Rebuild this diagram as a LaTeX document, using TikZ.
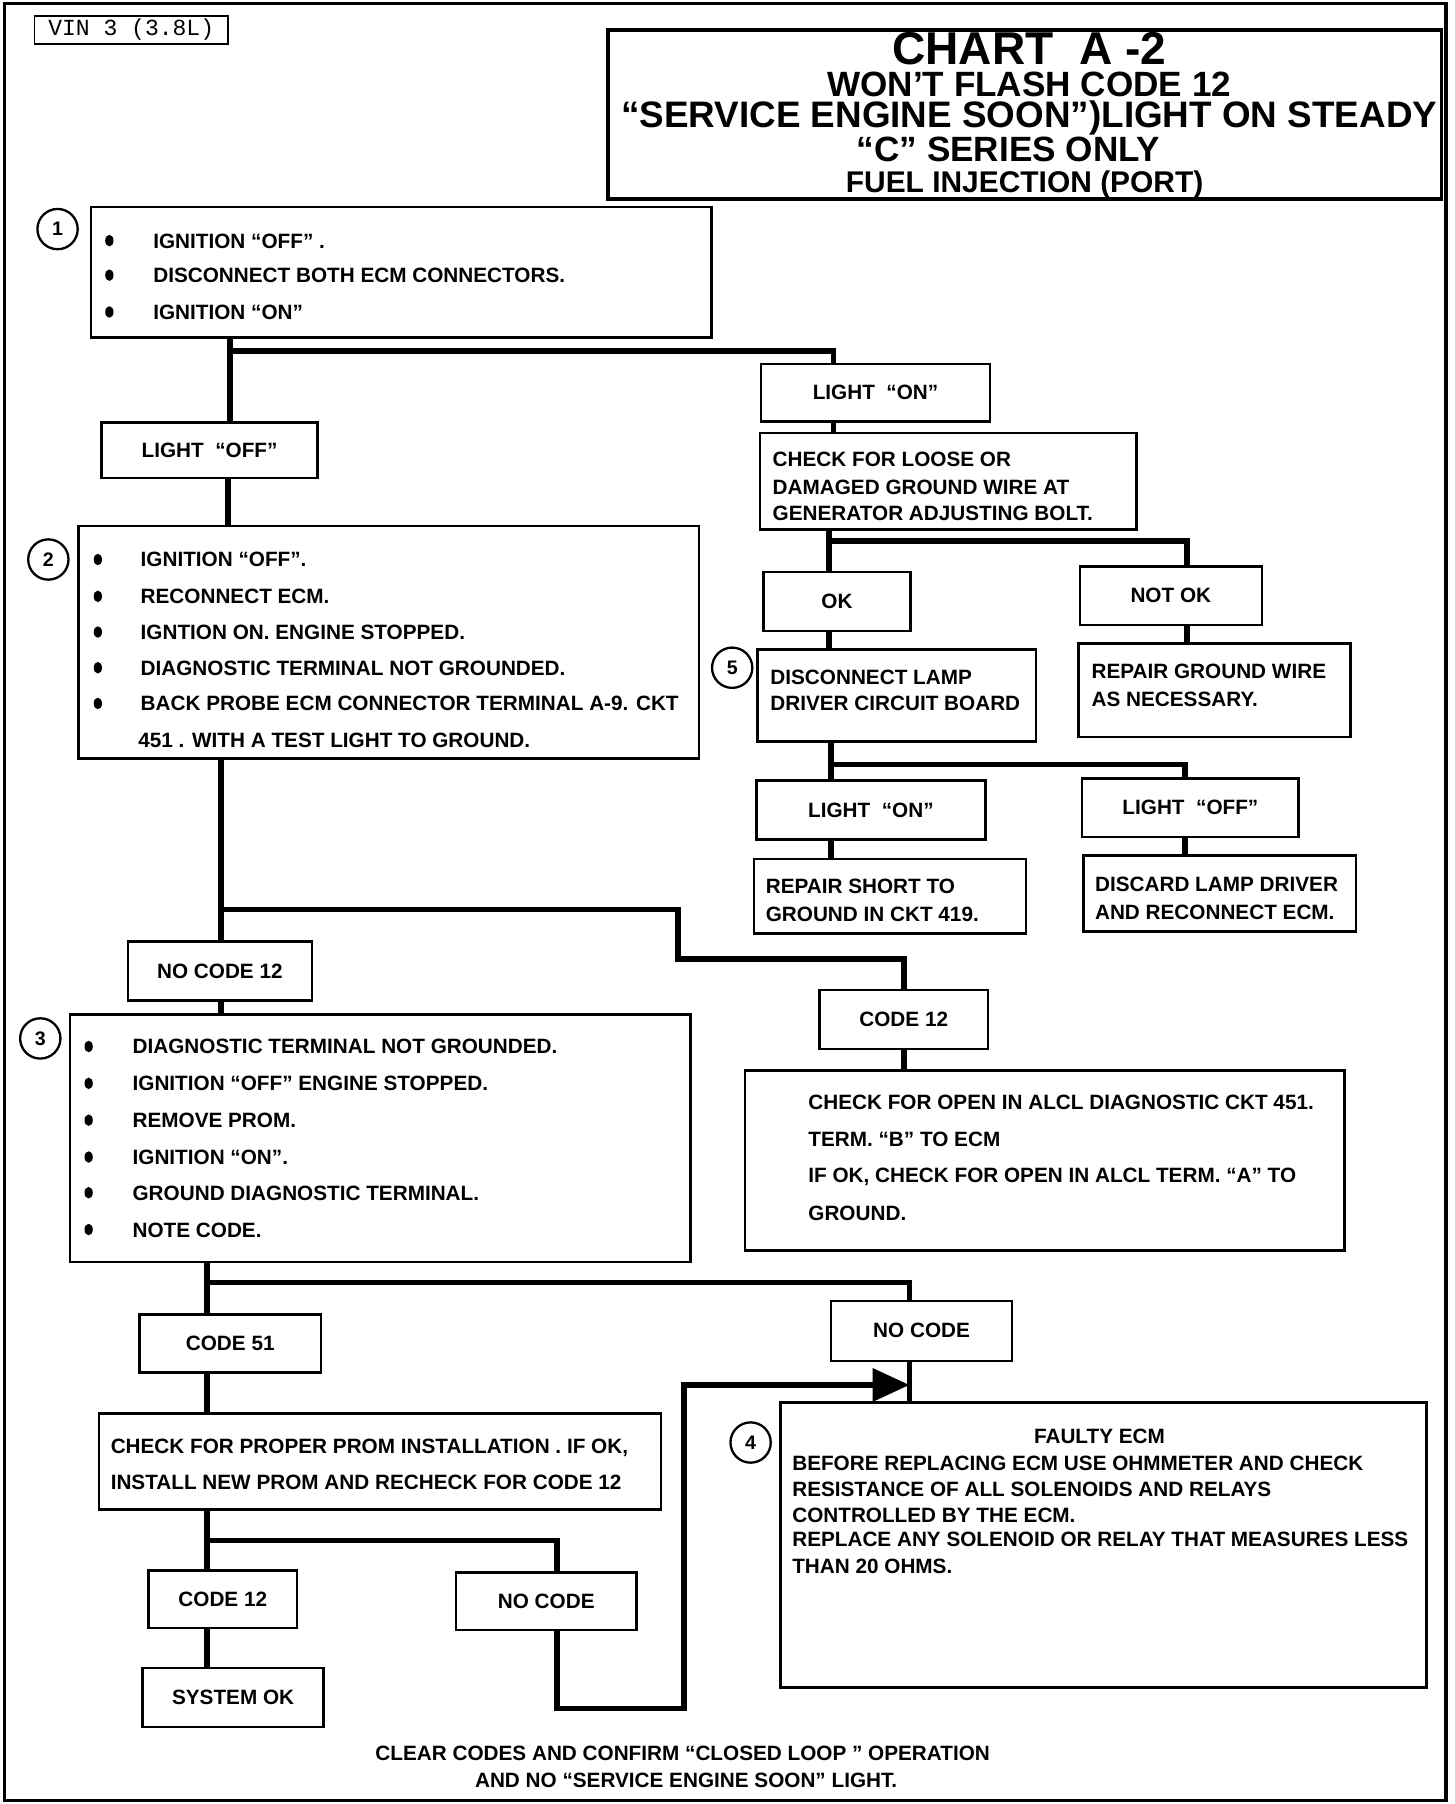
\documentclass[tikz,border=0pt]{standalone}
\usepackage{fontspec}
\setmainfont{Liberation Sans}
\newfontfamily\vinfont{Liberation Mono}
\usetikzlibrary{arrows.meta}
\newcommand\tline[4]{\node[txt] (#1) at (#2,#3+6.5) {#4};}
\newcommand\bul[2]{\fill (#1,#2) ellipse (3.6pt and 5pt);}
% \bx[style]{name}{x1}{y1}{x2}{y2}{text}
\newcommand\bx[7][]{\node[box, #1, minimum width=#5pt-#3pt, minimum height=#6pt-#4pt] (#2) at ({(#3+#5)/2},{(#4+#6)/2}) {#7};}
\newcommand\fs[1]{\fontsize{#1}{27.5}\selectfont}
\begin{document}
\begin{tikzpicture}[x=1pt,y=-1pt,
  box/.style={draw, line width=2.2pt, inner sep=0pt, font=\bfseries\fontsize{18}{21}\selectfont},
  txt/.style={anchor=base west, inner sep=0pt, font=\bfseries\fontsize{18}{21}\selectfont},
  conn/.style={line width=5pt, line join=miter},
  num/.style={draw, circle, line width=2pt, minimum size=35pt, inner sep=0pt, font=\bfseries\fontsize{17}{19}\selectfont},
]
\useasboundingbox (0,0) rectangle (1263,1567);
\fill[white] (0,0) rectangle (1263,1567);
\draw[line width=3pt] (4,3) rectangle (1256,1564);

% header
\bx[line width=1.6pt]{vin}{30}{14}{198}{38}{}
\node[font=\vinfont\fontsize{20}{20}\selectfont, inner sep=0pt] (vint) at (vin.center) {VIN 3 (3.8L)};
\bx[line width=3pt]{title}{528}{26}{1252}{173}{}
\node[anchor=north, inner sep=0pt, align=center, font=\bfseries\fs{30}] (ttl) at (894,28)
  {{\fs{40}CHART\ \ A -2}\\
   {\fs{30.5}WON’T FLASH CODE 12}\\
   {\fs{32}“SERVICE ENGINE SOON”)LIGHT ON STEADY}\\
   {\fs{30.5}“C” SERIES ONLY\rule{36pt}{0pt}}\\
   {\fs{26}FUEL INJECTION (PORT)\rule{8pt}{0pt}}};

% step 1
\node[num] (n1) at (50,199) {1};
\bx{b1}{79}{180}{618}{293}{}
\bul{95}{209}\bul{95}{239}\bul{95}{271}
\tline{b1a}{133}{209}{IGNITION “OFF” .}
\tline{b1b}{133}{239}{DISCONNECT BOTH ECM CONNECTORS.}
\tline{b1c}{133}{271}{IGNITION “ON”}

\bx{lon1}{661}{316}{860}{366}{LIGHT\ \ “ON”}
\bx{loff1}{88}{367}{276}{415}{LIGHT\ \ “OFF”}

\bx{chk}{660}{376}{987}{460}{}
\tline{chka}{671}{399}{CHECK FOR LOOSE OR}
\tline{chkb}{671}{423}{DAMAGED GROUND WIRE AT}
\tline{chkc}{671}{446}{GENERATOR ADJUSTING BOLT.}

\bx{ok}{663}{497}{791}{548}{OK}
\bx{nok}{938}{492}{1096}{543}{NOT OK}
\bx{rgw}{937}{559}{1173}{640}{}
\tline{rgwa}{948}{583}{REPAIR GROUND WIRE}
\tline{rgwb}{948}{607}{AS NECESSARY.}

\node[num] (n5) at (636,580) {5};
\bx{dis}{658}{564}{900}{644}{}
\tline{disa}{669}{588}{DISCONNECT LAMP}
\tline{disb}{669}{611}{DRIVER CIRCUIT BOARD}

\bx{lon2}{657}{678}{856}{729}{LIGHT\ \ “ON”}
\bx{loff2}{940}{676}{1128}{727}{LIGHT\ \ “OFF”}
\bx{rs}{655}{746}{891}{811}{}
\tline{rsa}{665}{770}{REPAIR SHORT TO}
\tline{rsb}{665}{794}{GROUND IN CKT 419.}
\bx{disc}{941}{743}{1178}{809}{}
\tline{disca}{951}{768}{DISCARD LAMP DRIVER}
\tline{discb}{951}{792}{AND RECONNECT ECM.}

% step 2
\node[num] (n2) at (42,486) {2};
\bx{b2}{68}{457}{607}{659}{}
\bul{85}{486}\bul{85}{518}\bul{85}{549}\bul{85}{580}\bul{85}{611}
\tline{b2a}{122}{486}{IGNITION “OFF”.}
\tline{b2b}{122}{518}{RECONNECT ECM.}
\tline{b2c}{122}{549}{IGNTION ON. ENGINE STOPPED.}
\tline{b2d}{122}{580}{DIAGNOSTIC TERMINAL NOT GROUNDED.}
\tline{b2e}{122}{611}{BACK PROBE ECM CONNECTOR TERMINAL A-9. CKT}
\tline{b2f}{120}{643}{451 . WITH A TEST LIGHT TO GROUND.}

\bx{nc12}{111}{818}{271}{869}{NO CODE 12}
\bx{c12}{712}{860}{858}{911}{CODE 12}
\bx{cfo}{647}{930}{1168}{1086}{}
\tline{cfoa}{702}{957}{CHECK FOR OPEN IN ALCL DIAGNOSTIC CKT 451.}
\tline{cfob}{702}{989}{TERM. “B” TO ECM}
\tline{cfoc}{702}{1021}{IF OK, CHECK FOR OPEN IN ALCL TERM. “A” TO}
\tline{cfod}{702}{1054}{GROUND.}

% step 3
\node[num] (n3) at (35,902) {3};
\bx{b3}{61}{881}{600}{1096}{}
\bul{77}{909}\bul{77}{941}\bul{77}{973}\bul{77}{1005}\bul{77}{1036}\bul{77}{1068}
\tline{b3a}{115}{909}{DIAGNOSTIC TERMINAL NOT GROUNDED.}
\tline{b3b}{115}{941}{IGNITION “OFF” ENGINE STOPPED.}
\tline{b3c}{115}{973}{REMOVE PROM.}
\tline{b3d}{115}{1005}{IGNITION “ON”.}
\tline{b3e}{115}{1036}{GROUND DIAGNOSTIC TERMINAL.}
\tline{b3f}{115}{1068}{NOTE CODE.}

\bx{c51}{121}{1142}{279}{1192}{CODE 51}
\bx{noc1}{722}{1130}{879}{1182}{NO CODE}
\bx{fe}{678}{1218}{1239}{1466}{}
\node[num] (n4) at (652,1253) {4};
\node[txt, anchor=base] (fea) at (955,1253.5) {FAULTY ECM};
\tline{feb}{688}{1271}{BEFORE REPLACING ECM USE OHMMETER AND CHECK}
\tline{fec}{688}{1293}{RESISTANCE OF ALL SOLENOIDS AND RELAYS}
\tline{fed}{688}{1316}{CONTROLLED BY THE ECM.}
\tline{fee}{688}{1337}{REPLACE ANY SOLENOID OR RELAY THAT MEASURES LESS}
\tline{fef}{688}{1360}{THAN 20 OHMS.}

\bx{prom}{86}{1228}{574}{1311}{}
\tline{proma}{96}{1256}{CHECK FOR PROPER PROM INSTALLATION . IF OK,}
\tline{promb}{96}{1287}{INSTALL NEW PROM AND RECHECK FOR CODE 12}

\bx{c12b}{129}{1364}{258}{1414}{CODE 12}
\bx{noc2}{396}{1366}{553}{1416}{NO CODE}
\bx{sok}{124}{1449}{281}{1500}{SYSTEM OK}

\node[txt, anchor=base] (fa) at (593,1529.5) {CLEAR CODES AND CONFIRM “CLOSED LOOP ” OPERATION};
\node[txt, anchor=base] (fb) at (596,1552.5) {AND NO “SERVICE ENGINE SOON” LIGHT.};

% connectors
\coordinate (j1) at (200,305);
\draw[conn] (200,0 |- b1.south) -- (200,0 |- loff1.north);
\draw[conn] (j1) -- (724,305) -- (724,0 |- lon1.north);
\draw[conn] (198,0 |- loff1.south) -- (198,0 |- b2.north);
\draw[conn] (724,0 |- lon1.south) -- (724,0 |- chk.north);
\draw[conn] (720,0 |- chk.south) -- (720,0 |- ok.north);
\coordinate (j2) at (720,470);
\draw[conn] (j2) -- (1031,470) -- (1031,0 |- nok.north);
\draw[conn] (1031,0 |- nok.south) -- (1031,0 |- rgw.north);
\draw[conn] (720,0 |- ok.south) -- (720,0 |- dis.north);
\draw[conn] (722,0 |- dis.south) -- (722,0 |- lon2.north);
\coordinate (j3) at (722,664);
\draw[conn] (j3) -- (1029,664) -- (1029,0 |- loff2.north);
\draw[conn] (722,0 |- lon2.south) -- (722,0 |- rs.north);
\draw[conn] (1029,0 |- loff2.south) -- (1029,0 |- disc.north);
\draw[conn] (192,0 |- b2.south) -- (192,0 |- nc12.north);
\coordinate (j4) at (192,790);
\draw[conn] (j4) -- (589,790) -- (589,833) -- (785,833) -- (785,0 |- c12.north);
\draw[conn] (192,0 |- nc12.south) -- (192,0 |- b3.north);
\draw[conn] (785,0 |- c12.south) -- (785,0 |- cfo.north);
\draw[conn] (180,0 |- b3.south) -- (180,0 |- c51.north);
\coordinate (j5) at (180,1114);
\draw[conn] (j5) -- (790,1114) -- (790,0 |- noc1.north);
\draw[conn] (790,0 |- noc1.south) -- (790,0 |- fe.north);
\draw[conn] (180,0 |- c51.south) -- (180,0 |- prom.north);
\draw[conn] (180,0 |- prom.south) -- (180,0 |- c12b.north);
\coordinate (j6) at (180,1338);
\draw[conn] (j6) -- (484,1338) -- (484,0 |- noc2.north);
\draw[conn] (180,0 |- c12b.south) -- (180,0 |- sok.north);
\coordinate (tip) at (790,1203);
\draw[conn, -{Triangle[length=32pt,width=28pt]}] (484,0 |- noc2.south) -- (484,1484) -- (594,1484) -- (594,1203) -- (tip);
\end{tikzpicture}
\end{document}
